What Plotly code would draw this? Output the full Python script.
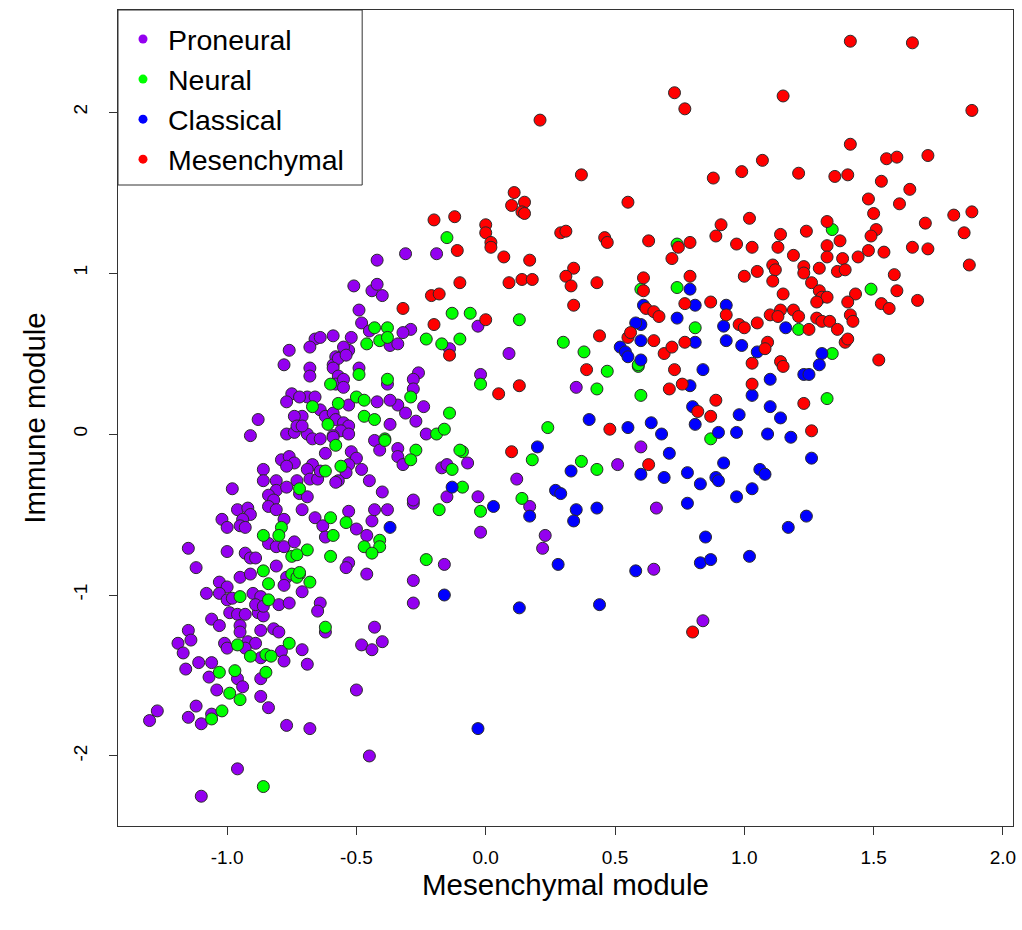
import plotly.graph_objects as go

# ---------------- data ----------------
proneural = [
    (0.60,-0.08),(0.66,-0.46),(0.22,-0.71),(0.65,-0.84),(0.84,-1.16),
    (0.09,0.50),(-0.02,0.37),(0.35,0.29),(-0.07,-0.18),(0.51,-0.19),(0.12,-0.28),(-0.03,-0.39),
    (0.17,-0.45),(-0.02,-0.61),(0.23,-0.63),
    (-0.31,1.12),(-0.19,1.12),(-0.03,0.67),(-0.29,0.65),(-0.32,0.63),(-0.14,0.53),
    (-0.42,1.08),(-0.51,0.92),(-0.44,0.89),(-0.42,0.93),(-0.40,0.86),(-0.49,0.77),(-0.48,0.69),
    (-0.45,0.64),(-0.37,0.55),(-0.34,0.56),(-0.66,0.59),(-0.64,0.60),(-0.68,0.54),(-0.59,0.61),
    (-0.52,0.60),(-0.53,0.52),(-0.55,0.54),(-0.58,0.48),(-0.59,0.43),(-0.57,0.47),(-0.54,0.49),
    (-0.49,0.41),(-0.59,0.41),(-0.57,0.36),(-0.58,0.31),(-0.55,0.34),(-0.55,0.29),(-0.68,0.41),
    (-0.68,0.36),(-0.38,0.31),(-0.26,0.38),(-0.28,0.34),(-0.28,0.28),(-0.34,0.18),(-0.31,0.13),
    (-0.27,0.08),(-0.24,0.17),(-0.23,0.00),(-0.42,0.20),(-0.37,0.21),(-0.53,0.18),(-0.69,0.23),
    (-0.66,0.23),(-0.71,0.11),(-0.64,0.15),(-0.62,0.11),(-0.59,0.13),(-0.58,0.09),(-0.55,0.07),
    (-0.53,0.05),(-0.56,0.02),(-0.37,0.06),(-0.59,-0.01),(-0.69,0.00),
    (-0.67,-0.03),(-0.64,-0.03),(-0.59,-0.02),(-0.53,0.00),(-0.62,-0.12),(-0.52,-0.11),(-0.50,-0.15),
    (-0.67,-0.19),(-0.69,-0.22),(-0.68,-0.28),(-0.65,-0.28),(-0.64,-0.23),(-0.53,-0.19),(-0.54,-0.24),
    (-0.57,-0.29),(-0.58,-0.30),(-0.48,-0.22),(-0.45,-0.29),(-0.43,-0.04),(-0.41,-0.10),(-0.34,-0.09),
    (-0.34,-0.14),(-0.32,-0.19),(-0.17,-0.21),(-0.15,-0.19),(-0.15,-0.39),(-0.40,-0.36),(-0.28,-0.43),
    (-0.28,-0.41),(-0.72,-0.37),(-0.69,-0.39),(-0.71,-0.47),(-0.66,-0.52),(-0.63,-0.57),(-0.62,-0.64),
    (-0.53,-0.48),(-0.50,-0.59),(-0.46,-0.63),(-0.44,-0.54),(-0.43,-0.47),(-0.38,-0.47),(-0.53,-0.80),
    (-0.54,-0.83),(-0.46,-0.87),(-0.16,-0.81),(-0.28,-0.91),(-0.28,-1.05),(-0.71,-0.98),(-0.64,-1.05),
    (-0.65,-1.10),
    (-0.62,-1.23),(-0.43,-1.20),(-0.48,-1.31),(-0.44,-1.34),(-0.40,-1.29),(-0.71,-1.34),(-0.69,-1.43),
    (-0.50,-1.59),(-0.68,-1.83),(-0.45,-2.00),
    (-1.06,-1.15),(-1.03,-1.19),(-0.99,-1.11),(-0.96,-1.12),(-0.93,-1.12),(-0.95,-1.19),(-0.95,-1.23),
    (-0.88,-1.11),(-0.86,-1.13),(-1.15,-1.22),(-1.14,-1.28),(-1.19,-1.30),(-1.17,-1.36),(-1.01,-1.30),
    (-1.00,-1.33),(-0.92,-1.29),(-0.89,-1.30),(-0.93,-1.33),(-0.87,-1.22),(-0.82,-1.21),(-0.80,-1.23),
    (-0.87,-1.39),(-0.79,-1.35),(-0.78,-1.41),(-1.16,-1.46),(-1.11,-1.42),(-1.06,-1.42),(-1.07,-1.51),
    (-0.96,-1.52),(-0.94,-1.57),(-0.87,-1.52),(-1.04,-1.59),(-0.87,-1.63),(-0.84,-1.70),(-1.27,-1.72),
    (-1.30,-1.78),(-1.12,-1.69),(-1.15,-1.76),(-1.10,-1.80),(-1.06,-1.74),(-0.77,-1.81),(-0.96,-2.08),
    (-1.10,-2.25),
    (-0.91,-0.01),(-0.77,0.00),(-0.74,0.01),(-0.79,-0.16),(-0.76,-0.14),(-0.74,-0.18),(-0.77,-0.20),
    (-0.86,-0.22),(-0.86,-0.29),(-0.81,-0.29),(-0.81,-0.35),(-0.77,-0.33),(-0.73,-0.29),(-0.98,-0.34),
    (-0.84,-0.38),(-0.82,-0.41),(-0.84,-0.45),(-0.81,-0.47),(-0.78,-0.53),(-0.96,-0.47),(-0.92,-0.46),
    (-0.91,-0.50),(-0.94,-0.53),(-0.95,-0.57),(-0.93,-0.58),(-1.02,-0.53),(-1.00,-0.58),(-0.84,-0.68),
    (-0.81,-0.70),(-0.78,-0.70),(-0.74,-0.67),(-1.15,-0.71),(-1.00,-0.73),(-0.93,-0.74),(-0.91,-0.77),
    (-0.89,-0.77),(-0.81,-0.82),(-0.77,-0.89),(-0.78,-0.94),(-1.12,-0.83),(-0.95,-0.89),(-0.91,-0.87),
    (-1.03,-0.92),(-1.00,-0.95),(-1.08,-0.99),(-1.03,-0.99),(-1.00,-1.03),(-0.98,-1.02),(-0.90,-0.99),
    (-0.87,-1.01),(-0.89,-1.06),(-0.86,-1.07),(-0.80,-1.06),(-0.76,-1.05),
    (-0.76,0.52),(-0.78,0.43),(-0.75,0.25),(-0.72,0.23),(-0.77,0.20),(-0.88,0.09),(-0.74,0.11),
    (-0.73,0.05),(-0.71,0.05),
]

neural = [
    (1.34,1.27),(0.74,1.18),(0.74,0.91),(1.49,0.90),(0.81,0.66),(1.21,0.65),(1.34,0.50),(1.32,0.22),
    (0.87,-0.03),(0.60,0.24),(0.59,0.42),
    (0.30,0.57),(0.38,0.51),(0.59,0.43),(0.47,0.39),(-0.02,0.31),(0.43,0.28),(0.24,0.04),(0.18,-0.16),
    (-0.09,-0.11),(0.37,-0.17),(0.43,-0.22),(-0.09,-0.33),(0.14,-0.40),(-0.02,-0.48),
    (0.60,0.90),(-0.15,1.22),(-0.13,0.75),(-0.06,0.75),(0.13,0.71),(-0.23,0.59),(-0.10,0.59),(-0.17,0.56),
    (-0.43,0.66),(-0.38,0.66),(-0.41,0.58),(-0.38,0.60),(-0.46,0.56),(-0.49,0.37),(-0.60,0.31),
    (-0.38,0.34),(-0.29,0.23),(-0.14,0.13),(-0.19,0.00),(-0.16,0.03),(-0.50,0.23),(-0.47,0.21),
    (-0.57,0.19),(-0.67,0.17),(-0.61,0.06),(-0.47,0.11),(-0.43,0.09),(-0.39,-0.03),
    (-0.58,-0.07),(-0.62,-0.23),(-0.56,-0.20),(-0.39,-0.04),(-0.27,-0.10),(-0.29,-0.16),(-0.10,-0.10),
    (-0.13,-0.22),(-0.18,-0.47),(-0.60,-0.52),(-0.59,-0.63),(-0.54,-0.55),(-0.41,-0.66),(-0.41,-0.70),
    (-0.47,-0.70),(-0.44,-0.74),(-0.60,-0.76),(-0.23,-0.78),(-0.72,-0.87),(-0.68,-0.92),(-0.69,-0.72),
    (-0.62,-1.20),
    (-0.96,-1.31),(-0.91,-1.38),(-0.85,-1.37),(-0.83,-1.38),(-0.76,-1.30),(-1.03,-1.48),(-0.97,-1.47),
    (-0.85,-1.48),(-0.99,-1.61),(-0.95,-1.65),(-1.06,-1.77),(-1.02,-1.72),(-0.86,-2.19),
    (-0.79,-0.58),(-0.86,-0.63),(-0.80,-0.63),(-0.75,-0.76),(-0.73,-0.75),(-0.86,-0.85),(-0.75,-0.87),
    (-0.73,-0.89),(-0.72,-0.86),(-0.84,-0.93),(-0.95,-1.01),(-0.84,-1.03),(-0.72,-0.34),
]

classical = [
    (0.79,0.90),(0.81,0.80),(0.93,0.80),(0.74,0.72),(0.61,0.80),(0.60,0.68),(0.60,0.58),(0.60,0.46),
    (0.92,0.67),(0.93,0.58),(0.81,0.57),(0.99,0.55),(1.05,0.51),(1.16,0.66),(1.30,0.50),(1.29,0.43),
    (1.23,0.37),(1.25,0.37),(1.10,0.34),(0.84,0.40),(0.79,0.30),(1.03,0.24),(1.10,0.17),(1.14,0.10),
    (0.98,0.12),(0.80,0.17),(0.81,0.06),(0.90,0.01),(0.97,0.01),(1.09,0.00),(1.18,-0.02),(0.64,0.07),
    (0.68,0.00),(0.71,-0.12),(1.26,-0.15),(0.60,-0.25),(0.69,-0.27),(0.78,-0.24),(0.92,-0.18),
    (0.83,-0.31),(0.89,-0.27),(0.90,-0.29),(1.06,-0.22),(1.08,-0.25),(1.03,-0.34),(0.97,-0.39),
    (0.78,-0.43),(1.24,-0.51),(1.17,-0.58),(0.85,-0.64),
    (0.28,-0.81),(0.58,-0.85),(0.83,-0.80),(0.87,-0.78),(1.02,-0.76),(0.13,-1.08),(0.44,-1.06),
    (-0.03,-1.83),
    (0.52,0.54),(0.54,0.51),(0.55,0.48),(0.58,0.69),(0.40,0.09),(0.55,0.04),(0.20,-0.08),(0.33,-0.23),
    (0.03,-0.45),(0.17,-0.51),(0.27,-0.35),(0.29,-0.37),(0.35,-0.47),(0.43,-0.46),(0.34,-0.54),
    (-0.13,-0.33),(-0.37,-0.58),(-0.16,-1.00),
]

mesenchymal = [
    (1.41,2.44),(1.65,2.43),(0.73,2.12),(0.77,2.02),(1.15,2.10),(1.88,2.01),(1.41,1.80),(1.07,1.70),
    (0.99,1.63),(0.88,1.59),(1.21,1.62),(1.35,1.60),(1.40,1.61),(1.55,1.71),(1.59,1.72),(1.71,1.73),
    (1.53,1.57),(1.64,1.52),(1.48,1.46),(1.60,1.43),(1.50,1.37),(1.81,1.36),(1.88,1.38),(1.70,1.31),
    (1.85,1.25),(1.87,1.05),(1.71,1.15),(1.65,1.16),(1.54,1.13),(1.48,1.14),(1.44,1.10),(1.51,1.27),
    (1.49,1.23),(1.32,1.32),(1.37,1.20),(1.32,1.17),(1.32,1.10),(1.38,1.09),(1.29,1.03),(1.36,1.01),
    (1.39,1.02),(1.24,1.26),(1.23,1.04),(1.23,1.00),(1.19,1.11),(1.14,1.24),(1.13,1.16),(1.11,1.05),
    (1.12,1.02),(1.05,1.01),(1.00,0.98),(1.03,1.16),(0.97,1.18),(1.02,1.34),(0.91,1.30),(0.89,1.23),
    (0.79,1.19),(0.745,1.16),(0.63,1.20),(0.72,1.09),(0.79,0.98),(1.58,0.99),(0.61,0.97),(0.61,0.89),
    (1.11,0.95),(1.26,0.94),(1.29,0.89),(1.30,0.85),(1.32,0.85),(1.28,0.82),(1.43,0.87),(1.40,0.82),
    (1.59,0.89),(1.67,0.83),(1.53,0.81),(1.56,0.78),(1.15,0.87),(0.77,0.81),(0.87,0.82),(0.62,0.78),
    (0.65,0.76),(0.67,0.73),(0.93,0.74),(0.98,0.68),(1.00,0.66),(1.05,0.69),(1.10,0.74),(1.14,0.77),
    (1.13,0.73),(1.19,0.77),(1.21,0.73),(1.25,0.65),(1.28,0.72),(1.30,0.70),(1.33,0.70),(1.36,0.65),
    (1.41,0.74),(1.42,0.70),(1.39,0.57),(1.40,0.59),(1.52,0.46),(0.65,0.58),(0.69,0.50),(0.72,0.54),
    (0.77,0.57),(0.73,0.40),(0.71,0.28),(0.76,0.31),(0.89,0.21),(0.82,0.14),(0.87,0.11),(1.03,0.44),
    (1.09,0.57),(1.08,0.53),(1.14,0.45),(1.15,0.42),(1.03,0.31),(1.23,0.19),(1.26,0.02),(0.63,-0.19),
    (0.80,-1.23),
    (0.39,0.40),(0.05,0.25),(0.13,0.30),(0.48,0.03),(0.10,-0.11),
    (0.21,1.95),(0.37,1.61),(0.55,1.44),(0.11,1.50),(0.15,1.44),(0.10,1.42),(0.14,1.38),(0.15,1.37),
    (-0.20,1.33),(-0.12,1.35),(0.00,1.30),(0.00,1.25),(0.02,1.19),(0.02,1.16),(0.29,1.25),(0.31,1.26),
    (0.46,1.22),(0.47,1.19),(-0.11,1.14),(0.07,1.10),(0.17,1.08),(0.34,1.03),(0.31,0.98),(0.33,0.92),
    (0.43,0.94),(0.09,0.94),(0.14,0.96),(0.18,0.96),(-0.10,0.94),(-0.21,0.86),(-0.18,0.87),(-0.32,0.78),
    (0.34,0.80),(0.00,0.71),(-0.20,0.68),(0.44,0.61),(0.55,0.60),(0.56,0.63),(-0.14,0.49),
]

subtypes = ["Proneural", "Neural", "Classical", "Mesenchymal"]
series = [proneural, neural, classical, mesenchymal]
colors = ["#9400F0", "#00FF00", "#0000FF", "#FF0000"]

x_ticks = [-1.0, -0.5, 0.0, 0.5, 1.0, 1.5, 2.0]
x_tick_labels = ["-1.0", "-0.5", "0.0", "0.5", "1.0", "1.5", "2.0"]
y_ticks = [-2, -1, 0, 1, 2]
y_tick_labels = ["-2", "-1", "0", "1", "2"]

FONT = "Liberation Sans, Arial, Helvetica, sans-serif"

fig = go.Figure()
for name, pts, col in zip(subtypes, series, colors):
    fig.add_trace(go.Scatter(
        x=[p[0] for p in pts], y=[p[1] for p in pts], mode="markers", name=name,
        showlegend=False,
        marker=dict(size=12, color=col, line=dict(color="#2a2a2a", width=1)),
        hoverinfo="x+y+name",
    ))
# legend-only entries (small dots without outline, as in the reference)
for name, col in zip(subtypes, colors):
    fig.add_trace(go.Scatter(
        x=[None], y=[None], mode="markers", name=name, legendgroup=name,
        marker=dict(size=9, color=col),
    ))

axis_common = dict(
    showgrid=False, zeroline=False, showline=True, mirror=True,
    linecolor="#333333", linewidth=1, ticks="outside", ticklen=8,
    tickcolor="#333333", tickwidth=1,
    tickfont=dict(family=FONT, size=19, color="#000000"),
)

# legend frame (as drawn by R's legend(): box in the top-left plot corner)
legend_frame = dict(
    type="rect", xref="paper", yref="paper",
    x0=0, x1=245 / 898, y0=1 - 175 / 816, y1=1,
    line=dict(color="#333333", width=1), fillcolor="white", layer="above",
)

fig.update_layout(
    width=1022, height=930,
    margin=dict(l=118, r=6, t=10, b=104),
    paper_bgcolor="white", plot_bgcolor="white",
    font=dict(family=FONT, color="#000000"),
    shapes=[legend_frame],
    xaxis=dict(
        range=[-1.422, 2.039], tickvals=x_ticks, ticktext=x_tick_labels,
        ticklabelstandoff=6,
        title=dict(text="Mesenchymal module", font=dict(family=FONT, size=29.5), standoff=7),
        **axis_common,
    ),
    yaxis=dict(
        range=[-2.435, 2.634], tickvals=y_ticks, ticktext=y_tick_labels, tickangle=-90,
        ticklabelstandoff=14,
        title=dict(text="Immune module", font=dict(family=FONT, size=29.5), standoff=16),
        **axis_common,
    ),
    legend=dict(
        x=0, y=1 - 4 / 816, xanchor="left", yanchor="top",
        bgcolor="rgba(0,0,0,0)", borderwidth=0,
        font=dict(family=FONT, size=28.5, color="#000000"),
        tracegroupgap=0, itemsizing="trace", itemwidth=40,
    ),
)

fig.write_html("out.html")
